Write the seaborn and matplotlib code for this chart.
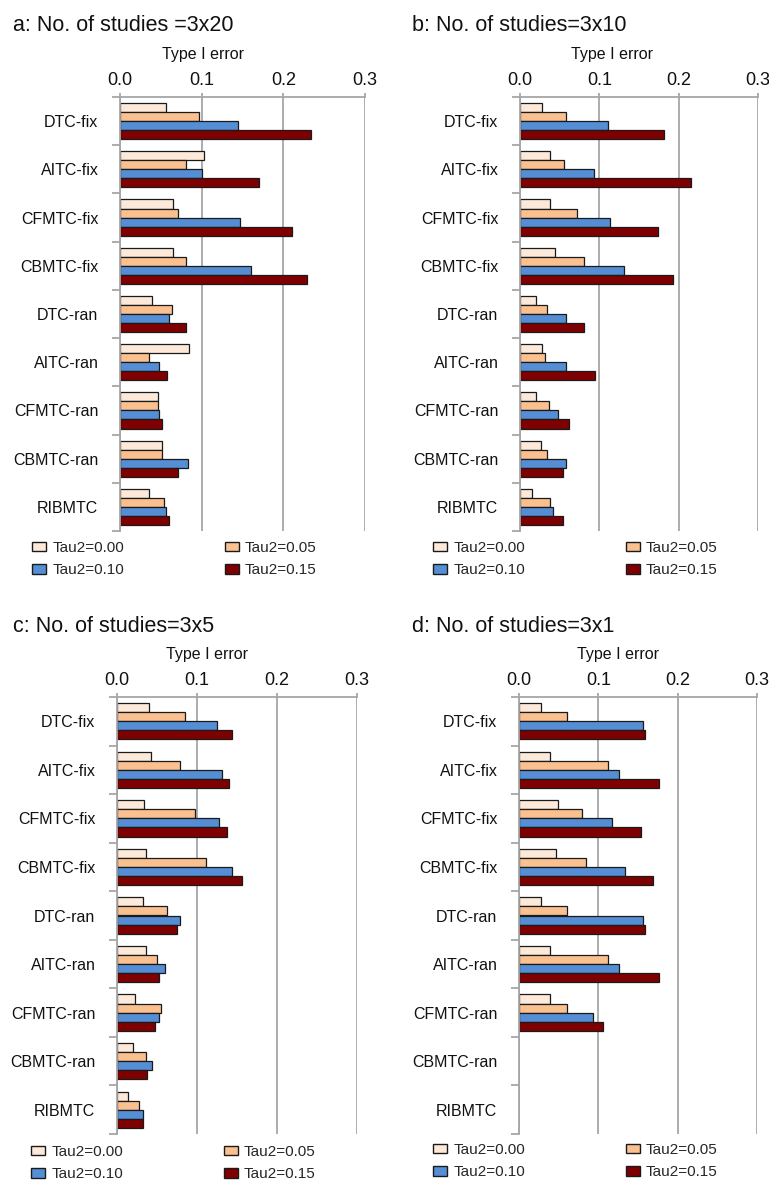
import numpy as np
import pandas as pd
import matplotlib
matplotlib.use("Agg")
import matplotlib.pyplot as plt
from matplotlib.patches import Patch
from matplotlib.ticker import FixedLocator
import seaborn as sns

# ---------------- data ----------------
methods = ["DTC-fix", "AITC-fix", "CFMTC-fix", "CBMTC-fix",
           "DTC-ran", "AITC-ran", "CFMTC-ran", "CBMTC-ran", "RIBMTC"]
taus = ["Tau2=0.00", "Tau2=0.05", "Tau2=0.10", "Tau2=0.15"]
tau_colors = ["#FDE9DA", "#FAC090", "#558ED5", "#7F0000"]

titles = ["a: No. of studies =3x20", "b: No. of studies=3x10",
          "c: No. of studies=3x5", "d: No. of studies=3x1"]
xticks = [0.0, 0.1, 0.2, 0.3]
xtick_labels = ["0.0", "0.1", "0.2", "0.3"]
xlabel = "Type I error"

# panel a (3x20)
a_t000 = [0.056, 0.103, 0.065, 0.065, 0.039, 0.085, 0.046, 0.052, 0.036]
a_t005 = [0.097, 0.081, 0.071, 0.081, 0.064, 0.036, 0.046, 0.051, 0.054]
a_t010 = [0.144, 0.101, 0.147, 0.160, 0.060, 0.048, 0.048, 0.083, 0.056]
a_t015 = [0.234, 0.170, 0.211, 0.229, 0.081, 0.058, 0.051, 0.071, 0.060]
# panel b (3x10)
b_t000 = [0.028, 0.038, 0.038, 0.044, 0.020, 0.028, 0.020, 0.026, 0.015]
b_t005 = [0.058, 0.056, 0.072, 0.081, 0.034, 0.032, 0.036, 0.034, 0.038]
b_t010 = [0.111, 0.093, 0.113, 0.131, 0.058, 0.058, 0.048, 0.058, 0.042]
b_t015 = [0.182, 0.215, 0.174, 0.193, 0.081, 0.095, 0.062, 0.054, 0.054]
# panel c (3x5)
c_t000 = [0.040, 0.042, 0.034, 0.036, 0.032, 0.036, 0.022, 0.020, 0.014]
c_t005 = [0.085, 0.079, 0.097, 0.111, 0.062, 0.050, 0.055, 0.036, 0.027]
c_t010 = [0.125, 0.131, 0.127, 0.144, 0.079, 0.060, 0.052, 0.044, 0.032]
c_t015 = [0.144, 0.140, 0.138, 0.156, 0.075, 0.053, 0.047, 0.038, 0.032]
# panel d (3x1) -- CBMTC-ran and RIBMTC not available
d_t000 = [0.028, 0.039, 0.049, 0.047, 0.028, 0.039, 0.039, np.nan, np.nan]
d_t005 = [0.061, 0.112, 0.079, 0.085, 0.061, 0.112, 0.061, np.nan, np.nan]
d_t010 = [0.156, 0.126, 0.117, 0.134, 0.156, 0.126, 0.093, np.nan, np.nan]
d_t015 = [0.159, 0.177, 0.154, 0.169, 0.159, 0.177, 0.106, np.nan, np.nan]

panels = [
    [a_t000, a_t005, a_t010, a_t015],
    [b_t000, b_t005, b_t010, b_t015],
    [c_t000, c_t005, c_t010, c_t015],
    [d_t000, d_t005, d_t010, d_t015],
]

# ---------------- style ----------------
sns.set_style("white")
plt.rcParams["font.family"] = ["Liberation Sans", "DejaVu Sans"]

W, H = 769, 1181
fig = plt.figure(figsize=(W / 100, H / 100), dpi=100)

GRAY = "#a6a6a6"

# axes boxes in pixels: (x0, x_right, y_top, y_bottom)
boxes = [(120, 365, 97, 531), (520, 758, 97, 531),
         (117, 357, 697, 1134), (519, 757, 697, 1134)]
title_pos = [(13, 31), (412, 31), (13, 632), (412, 632)]
label_x = [0.339, 0.385, 0.375, 0.416]
legend_pos = [(32, 541), (433, 541), (31, 1145), (433, 1143)]

for i, (series, box) in enumerate(zip(panels, boxes)):
    x0, x1, yt, yb = box
    ax = fig.add_axes([x0 / W, 1 - yb / H, (x1 - x0) / W, (yb - yt) / H])

    df = pd.DataFrame({
        "method": np.tile(methods, len(taus)),
        "tau": np.repeat(taus, len(methods)),
        "value": np.concatenate(series),
    }).dropna()

    sns.barplot(data=df, y="method", x="value", hue="tau",
                order=methods, hue_order=taus, palette=tau_colors,
                saturation=1, orient="h", width=0.75, gap=0, errorbar=None,
                edgecolor="#1a1a1a", linewidth=0.9, legend=False, ax=ax)

    ax.set_xlim(0, 0.3)
    ax.set_ylim(len(methods) - 0.5, -0.5)

    # x axis on top
    ax.xaxis.set_ticks_position("top")
    ax.xaxis.set_label_position("top")
    ax.set_xticks(xticks)
    ax.set_xticklabels(xtick_labels)
    ax.tick_params(axis="x", which="major", top=True, bottom=False,
                   length=3, width=1.3, color=GRAY, pad=2.5,
                   labelsize=13, labelcolor="#111111")
    ax.set_xlabel(xlabel, fontsize=11.5, color="#111111")
    ax.xaxis.label.set_va("center")
    ax.xaxis.set_label_coords(label_x[i], 1 + 43 / (yb - yt))

    # y axis: labels at centres, ticks at boundaries
    ax.set_ylabel("")
    ax.tick_params(axis="y", which="major", length=0, pad=15.5,
                   labelsize=11.5, labelcolor="#111111")
    ax.yaxis.set_minor_locator(FixedLocator(np.arange(-0.5, len(methods), 1.0)))
    ax.tick_params(axis="y", which="minor", left=True, length=6,
                   width=1.3, color=GRAY, direction="out")

    ax.xaxis.grid(True, color=GRAY, linewidth=1.3)
    ax.yaxis.grid(False)
    ax.set_axisbelow(True)
    for side in ["right", "bottom"]:
        ax.spines[side].set_visible(False)
    for side in ["top", "left"]:
        ax.spines[side].set_color(GRAY)
        ax.spines[side].set_linewidth(1.3)

    # legend
    handles = [Patch(facecolor=c, edgecolor="#1a1a1a", linewidth=1.0)
               for c in tau_colors]
    order = [0, 2, 1, 3]
    lx, ly = legend_pos[i]
    ax.legend([handles[k] for k in order], [taus[k] for k in order],
              ncol=2, loc="upper left", bbox_to_anchor=(lx / W, 1 - ly / H),
              bbox_transform=fig.transFigure, frameon=False, fontsize=11,
              borderpad=0, borderaxespad=0, handlelength=0.92,
              handleheight=0.6, handletextpad=0.4, columnspacing=6.6,
              labelspacing=0.55)

    tx, ty = title_pos[i]
    fig.text(tx / W, 1 - ty / H, titles[i], fontsize=15.5,
             ha="left", va="baseline", color="#111111")

fig.savefig("out.png", dpi=100)
